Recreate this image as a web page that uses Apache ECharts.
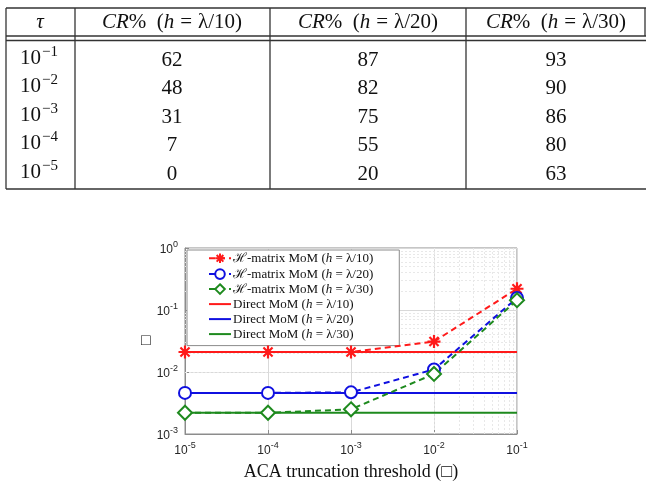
<!DOCTYPE html>
<html>
<head>
<meta charset="utf-8">
<script src="https://cdn.jsdelivr.net/npm/echarts@6/dist/echarts.min.js"></script>
<style>
  html, body { margin: 0; padding: 0; background: #fff; }
  #chart { width: 646px; height: 488px; }
</style>
</head>
<body>
<div id="chart"></div>
<script>
// table data
const tauExp = ['−1', '−2', '−3', '−4', '−5'];
const headH = ['λ/10', 'λ/20', 'λ/30'];
const cr10 = [62, 48, 31, 7, 0];
const cr20 = [87, 82, 75, 55, 20];
const cr30 = [93, 90, 86, 80, 63];

// plot data
const tau = [1e-5, 1e-4, 1e-3, 1e-2, 1e-1];
const hmat10 = [0.021, 0.021, 0.021, 0.031, 0.22];
const hmat20 = [0.0046, 0.0046, 0.0047, 0.011, 0.156];
const hmat30 = [0.0022, 0.0022, 0.0025, 0.0093, 0.144];
const direct10 = [0.021, 0.021, 0.021, 0.021, 0.021];
const direct20 = [0.0046, 0.0046, 0.0046, 0.0046, 0.0046];
const direct30 = [0.0022, 0.0022, 0.0022, 0.0022, 0.0022];
const legendNames = ['hm10', 'hm20', 'hm30', 'd10', 'd20', 'd30'];
const legendText = [
    '{n|ℋ-matrix MoM (}{i|h}{n| = λ/10)}',
    '{n|ℋ-matrix MoM (}{i|h}{n| = λ/20)}',
    '{n|ℋ-matrix MoM (}{i|h}{n| = λ/30)}',
    '{n|Direct MoM (}{i|h}{n| = λ/10)}',
    '{n|Direct MoM (}{i|h}{n| = λ/20)}',
    '{n|Direct MoM (}{i|h}{n| = λ/30)}'
];

const RED = '#ff1a1a', BLUE = '#1010e0', GREEN = '#1e8a1e';
const SERIF = '"Liberation Serif", "DejaVu Serif", serif';
const SANS = '"Liberation Sans", Arial, sans-serif';
const STAR = 'path://M0,-10L0,10M-10,0L10,0M-7,-7L7,7M-7,7L7,-7';
const DASH_ICON = 'path://M0,0L22,0L22,2L0,2Z';

function pairs(ys) {
    return tau.map((t, i) => [t, ys[i]]);
}

// ---- table as graphic elements ----
function buildTable() {
    const els = [];
    const lineCol = '#333';
    const colX = [6, 75, 270, 466, 645];
    const colC = [40, 172, 368, 556];
    const rowY = [60, 88, 117, 145, 174];
    const hl = (y) => els.push({ type: 'line', shape: { x1: 6, y1: y, x2: 646, y2: y }, style: { stroke: lineCol, lineWidth: 1.3 } });
    hl(8); hl(36); hl(40.5); hl(189);
    for (let i = 0; i < 4; i++) {
        els.push({ type: 'line', shape: { x1: colX[i], y1: 8, x2: colX[i], y2: 189 }, style: { stroke: lineCol, lineWidth: 1.3 } });
    }
    els.push({ type: 'line', shape: { x1: 645, y1: 8, x2: 645, y2: 36 }, style: { stroke: lineCol, lineWidth: 1.3 } });

    const rich = {
        n: { fontFamily: SERIF, fontSize: 21, fill: '#111', verticalAlign: 'bottom' },
        eq: { fontFamily: SERIF, fontSize: 21, fill: '#111', verticalAlign: 'bottom', padding: [0, 6, 0, 6] },
        it: { fontFamily: SERIF, fontSize: 21, fontStyle: 'italic', fill: '#111', verticalAlign: 'bottom' },
        sup: { fontFamily: SERIF, fontSize: 15, fill: '#111', padding: [0, 0, 9, 1], verticalAlign: 'bottom' }
    };
    const txt = (x, y, s) => els.push({
        type: 'text', x: x, y: y,
        style: { text: s, rich: rich, align: 'center', verticalAlign: 'middle' }
    });
    txt(colC[0], 22, '{it|τ}');
    headH.forEach((h, i) => txt(colC[i + 1], 22, '{it|CR}{n|%  (}{it|h}{eq|=}{n|' + h + ')}'));
    tauExp.forEach((e, r) => {
        txt(colC[0] - 1, rowY[r] - 3, '{n|10}{sup|' + e + '}');
        txt(colC[1], rowY[r], '{n|' + cr10[r] + '}');
        txt(colC[2], rowY[r], '{n|' + cr20[r] + '}');
        txt(colC[3], rowY[r], '{n|' + cr30[r] + '}');
    });
    return els;
}

// minor grid positions for the log axes
function minorVals(lo, hi) {
    const out = [];
    for (let e = lo; e < hi; e++) {
        for (let k = 2; k <= 9; k++) out.push(k * Math.pow(10, e));
    }
    return out;
}

function powLabel(v) {
    const e = Math.round(Math.log10(v));
    return '{b|10}{s|' + e + '}';
}

const tickRich = {
    b: { fontFamily: SANS, fontSize: 12, color: '#262626', verticalAlign: 'bottom' },
    s: { fontFamily: SANS, fontSize: 9, color: '#262626', padding: [0, 0, 7, 0], verticalAlign: 'bottom' }
};

function hmSeries(name, ys, color, symbol, size) {
    const star = symbol === STAR;
    return {
        name: name, type: 'line', data: pairs(ys),
        symbol: symbol, symbolSize: size,
        lineStyle: { color: color, width: 2, type: [6, 4] },
        itemStyle: star ? { color: 'none', borderColor: color, borderWidth: 2.2 } : { color: color, borderWidth: 2 },
        z: 4
    };
}
function directSeries(name, ys, color) {
    return {
        name: name, type: 'line', data: pairs(ys), symbol: 'none',
        lineStyle: { color: color, width: 2 },
        itemStyle: { color: color },
        z: 3
    };
}

const chart = echarts.init(document.getElementById('chart'), null, { renderer: 'canvas' });
const gridLine = { color: '#d9d9d9', width: 1 };
const minorLine = { color: '#e8e8e8', width: 1, type: [2, 2] };

const option = {
    backgroundColor: '#fff',
    animation: false,
    grid: { left: 185, top: 248, width: 332, height: 186, show: true, borderColor: '#8c8c8c', borderWidth: 1, backgroundColor: 'transparent' },
    xAxis: {
        type: 'log', logBase: 10, min: 1e-5, max: 1e-1, splitNumber: 4,
        name: 'ACA truncation threshold (□)', nameLocation: 'middle', nameGap: 29,
        nameTextStyle: { fontFamily: SERIF, fontSize: 18, color: '#111' },
        axisLine: { lineStyle: { color: '#8c8c8c' } },
        axisTick: { inside: true, length: 4, lineStyle: { color: '#8c8c8c' } },
        axisLabel: { formatter: powLabel, rich: tickRich, margin: 7 },
        splitLine: { show: true, lineStyle: gridLine }
    },
    yAxis: {
        type: 'log', logBase: 10, min: 1e-3, max: 1, splitNumber: 3,
        name: '□', nameLocation: 'middle', nameGap: 33, nameRotate: 0,
        nameTextStyle: { fontFamily: SERIF, fontSize: 16, color: '#111' },
        axisLine: { show: true, lineStyle: { color: '#8c8c8c' } },
        axisTick: { show: true, inside: true, length: 4, lineStyle: { color: '#8c8c8c' } },
        axisLabel: { formatter: powLabel, rich: tickRich, margin: 7 },
        splitLine: { show: true, lineStyle: gridLine }
    },
    legend: {
        orient: 'vertical', left: 187, top: 250,
        data: legendNames.map((n, i) => i < 3 ? { name: n } : { name: n, icon: DASH_ICON }),
        itemWidth: 22, itemHeight: 12, itemGap: 2,
        padding: [1, 26, 5, 21],
        backgroundColor: '#fff', borderColor: '#8c8c8c', borderWidth: 1,
        formatter: (name) => legendText[legendNames.indexOf(name)],
        textStyle: {
            color: '#111', padding: [0, 0, 0, -3],
            rich: {
                n: { fontFamily: SERIF, fontSize: 13, lineHeight: 14, color: '#111' },
                i: { fontFamily: SERIF, fontSize: 13, lineHeight: 14, fontStyle: 'italic', color: '#111' }
            }
        }
    },
    graphic: buildTable(),
    series: [
        {
            name: 'grid-minor', type: 'line', data: [], silent: true, z: 1,
            markLine: {
                silent: true, symbol: 'none', z: 1, animation: false,
                label: { show: false },
                lineStyle: minorLine,
                data: minorVals(-5, -1).map(v => ({ xAxis: v }))
                    .concat(minorVals(-3, 0).map(v => ({ yAxis: v })))
            }
        },
        hmSeries('hm10', hmat10, RED, STAR, 13),
        hmSeries('hm20', hmat20, BLUE, 'emptyCircle', 12),
        hmSeries('hm30', hmat30, GREEN, 'emptyDiamond', 14),
        directSeries('d10', direct10, RED),
        directSeries('d20', direct20, BLUE),
        directSeries('d30', direct30, GREEN)
    ]
};
chart.setOption(option);
</script>
</body>
</html>
